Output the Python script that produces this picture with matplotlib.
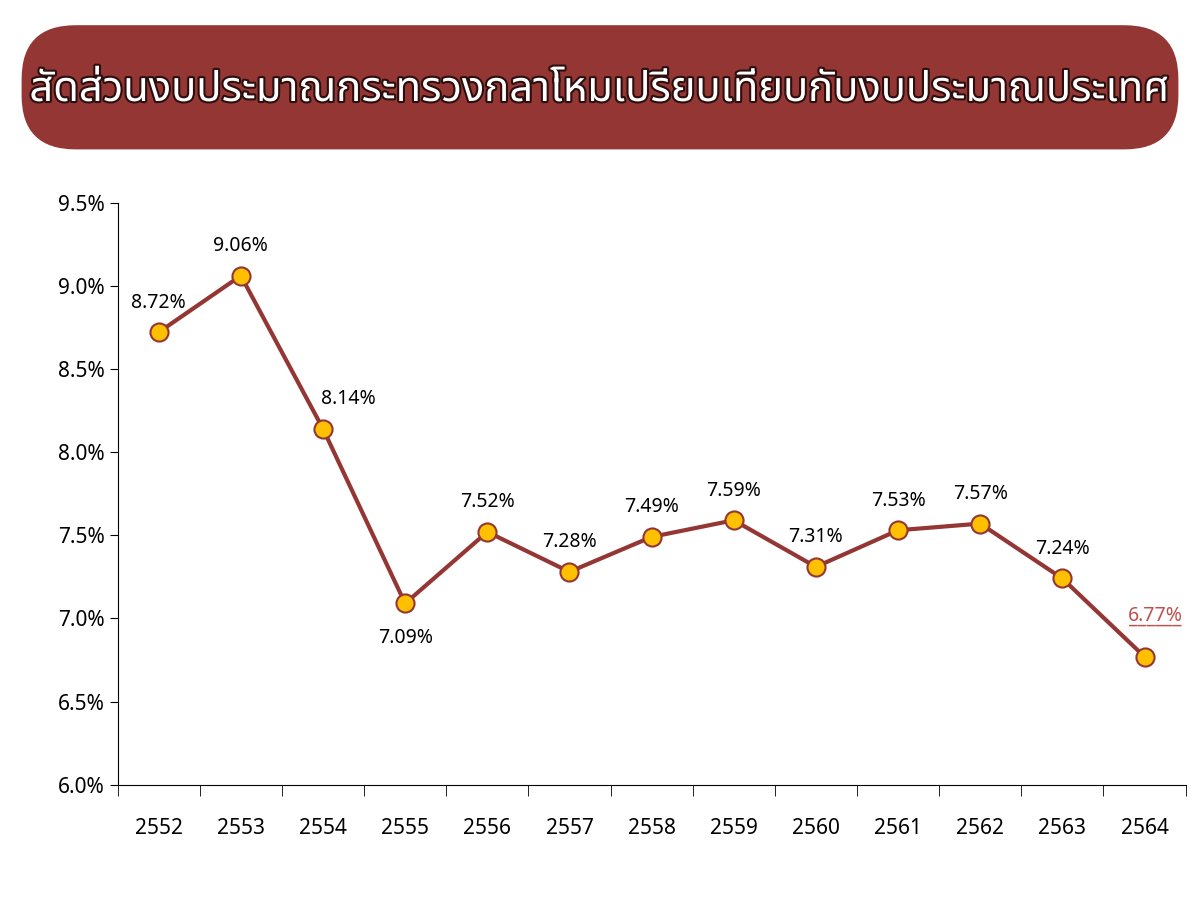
import matplotlib.pyplot as plt
import matplotlib.patheffects as pe
from matplotlib.patches import FancyBboxPatch
from matplotlib.ticker import FuncFormatter

years = ['2552', '2553', '2554', '2555', '2556', '2557', '2558',
         '2559', '2560', '2561', '2562', '2563', '2564']
ratio = [8.72, 9.06, 8.14, 7.09, 7.52, 7.28, 7.49, 7.59, 7.31, 7.53, 7.57, 7.24, 6.77]
title = 'สัดส่วนงบประมาณกระทรวงกลาโหมเปรียบเทียบกับงบประมาณประเทศ'

plt.rcParams['font.family'] = ['Noto Sans Thai', 'Noto Sans', 'DejaVu Sans']

fig = plt.figure(figsize=(12, 9), dpi=100)
ax = fig.add_axes([0.098, 0.128, 0.89, 0.647])

x = list(range(len(years)))
ax.plot(x, ratio, color='#943634', lw=3, zorder=2)
ax.scatter(x, ratio, s=170, color='#FFC000', edgecolor='#943634', linewidths=1.5, zorder=3)

for i, v in enumerate(ratio):
    if i == 3:
        ax.annotate(f'{v:.2f}%', (i, v), xytext=(0, -18), textcoords='offset points',
                    ha='center', va='top', fontsize=14)
    elif i == len(ratio) - 1:
        ax.annotate(f'{v:.2f}%', (i, v), xytext=(8, 22), textcoords='offset points',
                    ha='center', va='bottom', fontsize=14, color='#C0504D')
        ax.annotate('______', (i, v), xytext=(8, 21), textcoords='offset points',
                    ha='center', va='bottom', fontsize=14, color='#C0504D')
    else:
        dx = 18 if i == 2 else 0
        ax.annotate(f'{v:.2f}%', (i, v), xytext=(dx, 14), textcoords='offset points',
                    ha='center', va='bottom', fontsize=14)

ax.set_xlim(-0.5, len(years) - 0.5)
ax.set_ylim(6.0, 9.5)
ax.set_yticks([6.0, 6.5, 7.0, 7.5, 8.0, 8.5, 9.0, 9.5])
ax.yaxis.set_major_formatter(FuncFormatter(lambda v, p: f'{v:.1f}%'))
ax.set_xticks(x)
ax.set_xticklabels(years)
ax.set_xticks([i - 0.5 for i in range(len(years) + 1)], minor=True)
ax.tick_params(axis='x', which='major', length=0, pad=24, labelsize=15)
ax.tick_params(axis='x', which='minor', length=8, direction='out')
ax.tick_params(axis='y', length=6, labelsize=15)
for s in ['top', 'right']:
    ax.spines[s].set_visible(False)

box = FancyBboxPatch((0.018, 0.834), 0.964, 0.138, boxstyle='round,pad=0,rounding_size=0.045',
                     transform=fig.transFigure, facecolor='#943634', edgecolor='none',
                     mutation_aspect=1.33)
fig.patches.append(box)
fig.text(0.5, 0.9, title, ha='center', va='center', fontsize=30, color='white',
         fontweight='bold',
         path_effects=[pe.withStroke(linewidth=3, foreground='#2b0f0e')])

fig.savefig('out.png')
